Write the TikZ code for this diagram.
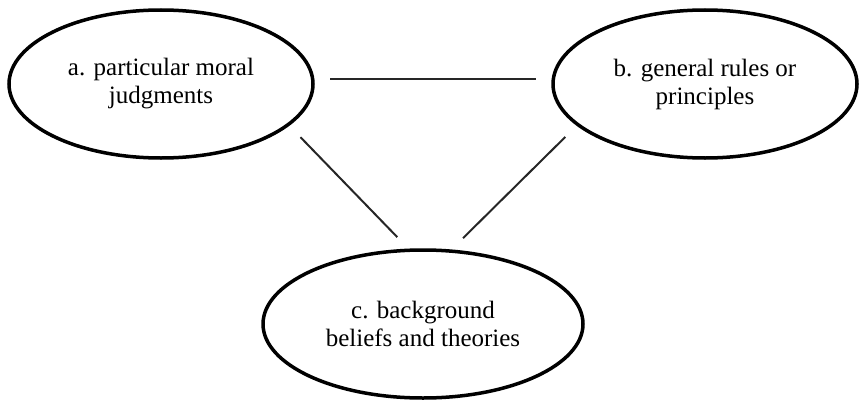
\documentclass[tikz,border=0pt]{standalone}
\usepackage{fontspec}
\setmainfont{Liberation Serif}
\usetikzlibrary{shapes.geometric}

\begin{document}
\begin{tikzpicture}[x=1pt,y=-1pt,
    every node/.style={ellipse,draw,line width=3.5pt,inner sep=0pt,
      align=center,font=\fontsize{25}{28}\selectfont},
    link/.style={line width=2pt,draw=black!85,shorten <=16pt,shorten >=16pt}]
  \useasboundingbox (0,0) rectangle (861,404);

  \node[minimum width=304pt,minimum height=148pt] (a) at (161, 84) {a. particular moral\\judgments};
  \node[minimum width=304pt,minimum height=148pt] (b) at (705, 84) {b. general rules or\\principles};
  \node[minimum width=320pt,minimum height=148pt] (c) at (423, 324) {c. background\\beliefs and theories};


  \draw[link] (a.2) -- (b.178);
  \draw[link] (a.-18) -- (c.101);
  \draw[link] (b.-162) -- (c.69);
  
\end{tikzpicture}
\end{document}
